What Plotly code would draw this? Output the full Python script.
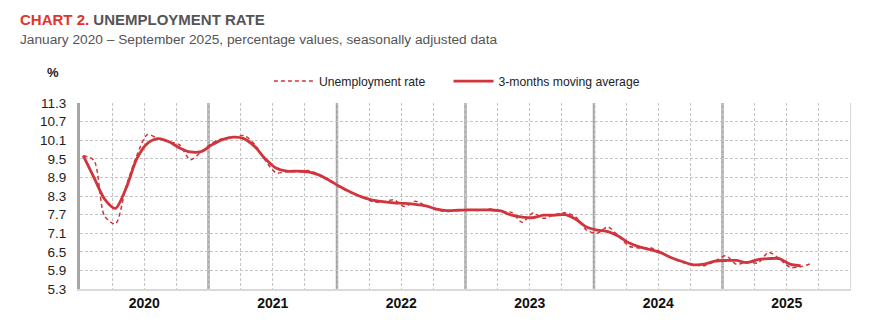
import plotly.graph_objects as go

# Monthly data, January 2020 - September 2025
years = ["2020", "2021", "2022", "2023", "2024", "2025"]
unemployment_rate = [
    9.6, 9.45, 7.65, 7.4, 8.6, 9.6, 10.28, 10.15, 10.05, 9.95, 9.47, 9.72,      # 2020
    10.0, 10.15, 10.2, 10.25, 9.97, 9.45, 9.05, 9.08, 9.1, 9.12, 9.0, 8.82,     # 2021
    8.58, 8.41, 8.27, 8.12, 8.1, 8.18, 7.96, 8.13, 7.98, 7.85, 7.8, 7.85,       # 2022
    7.86, 7.83, 7.88, 7.8, 7.77, 7.45, 7.75, 7.58, 7.7, 7.76, 7.62, 7.2,        # 2023
    7.1, 7.3, 7.0, 6.68, 6.62, 6.62, 6.48, 6.3, 6.15, 6.08, 6.05, 6.2,          # 2024
    6.37, 6.1, 6.18, 6.14, 6.48, 6.28, 6.0, 6.02, 6.12,                         # 2025
]
moving_average = [
    9.6, 8.9, 8.2, 7.9, 8.55, 9.5, 10.0, 10.15, 10.05, 9.85, 9.72, 9.73,
    9.95, 10.12, 10.2, 10.15, 9.9, 9.5, 9.2, 9.1, 9.1, 9.08, 8.98, 8.8,
    8.6, 8.42, 8.27, 8.17, 8.12, 8.08, 8.06, 8.03, 7.98, 7.88, 7.83, 7.84,
    7.85, 7.85, 7.85, 7.82, 7.68, 7.62, 7.6, 7.68, 7.68, 7.7, 7.55, 7.3,
    7.2, 7.15, 7.0, 6.78, 6.65, 6.57, 6.46, 6.3, 6.18, 6.08, 6.1, 6.2,
    6.22, 6.22, 6.15, 6.25, 6.28, 6.28, 6.1, 6.05,
]
y_ticks = [5.3, 5.9, 6.5, 7.1, 7.7, 8.3, 8.9, 9.5, 10.1, 10.7, 11.3]

RED = "#D0343C"
FONT = "Liberation Sans, Arial, sans-serif"

x_rate = [i + 0.3 for i in range(len(unemployment_rate))]
x_ma = [i + 0.3 for i in range(len(moving_average))]
n_months = 12 * len(years)

fig = go.Figure()
fig.add_trace(go.Scatter(
    x=x_rate, y=unemployment_rate, mode="lines", name="Unemployment rate",
    line=dict(color=RED, width=1.5, dash="4px,3px", shape="spline", smoothing=0.8),
    legend="legend",
))
fig.add_trace(go.Scatter(
    x=x_ma, y=moving_average, mode="lines", name="3-months moving average",
    line=dict(color=RED, width=2.8, shape="spline", smoothing=0.8),
    legend="legend2",
))

# year boundary lines
for k in range(1, len(years)):
    fig.add_shape(type="line", xref="x", yref="paper", x0=12 * k, x1=12 * k, y0=0, y1=1,
                  line=dict(color="#A6A6A6", width=2.5), layer="below")
fig.add_shape(type="line", xref="x", yref="paper", x0=n_months, x1=n_months, y0=0, y1=1,
              line=dict(color="#D9D9D9", width=2), layer="below")

legend_common = dict(orientation="h", xanchor="left", y=1.118, yanchor="middle",
                     font=dict(size=12.2, color="#222"), bgcolor="rgba(0,0,0,0)",
                     itemwidth=40)
fig.update_layout(
    width=873, height=326,
    margin=dict(l=80, r=22, t=103, b=37),
    paper_bgcolor="white", plot_bgcolor="white",
    font=dict(family=FONT, size=13, color="#222"),
    showlegend=True,
    legend=dict(x=0.245, **legend_common),
    legend2=dict(x=0.478, **legend_common),
    xaxis=dict(
        range=[0, n_months], tickmode="array",
        tickvals=[12 * k + 6 for k in range(len(years))], ticktext=[f"<b>{y}</b>" for y in years],
        showgrid=False, zeroline=False, ticks="", ticklen=0,
        tickfont=dict(size=14, color="#111"),
        showline=True, linecolor="#D9D9D9", linewidth=2,
        minor=dict(tickmode="array", tickvals=list(range(3, n_months, 3)), showgrid=True,
                   gridcolor="#C4C4C4", griddash="3px,2px", gridwidth=1, ticks=""),
    ),
    yaxis=dict(
        range=[5.3, 11.3], tickmode="array", tickvals=y_ticks,
        ticktext=[f"{v:.1f}" for v in y_ticks],
        showgrid=True, gridcolor="#C4C4C4", griddash="3px,2px", gridwidth=1,
        zeroline=False, ticks="", tickfont=dict(size=13.5, color="#222"),
        ticklabelstandoff=8,
        showline=True, linecolor="#A6A6A6", linewidth=3,
    ),
    annotations=[
        dict(text=f"<b><span style='color:#E0352B'>CHART 2.</span> UNEMPLOYMENT RATE</b>",
             xref="paper", yref="paper", x=0, y=1, xanchor="left", yanchor="top",
             showarrow=False, font=dict(size=15, color="#555555", family=FONT)),
        dict(text="January 2020 – September 2025, percentage values, seasonally adjusted data",
             xref="paper", yref="paper", x=0, y=1, xanchor="left", yanchor="top",
             showarrow=False, font=dict(size=13.7, color="#555555", family=FONT)),
        dict(text="<b>%</b>", xref="paper", yref="paper", x=0, y=1, xanchor="left", yanchor="top",
             showarrow=False, font=dict(size=13, color="#222", family=FONT)),
    ],
)
# position annotations in pixels via paper coords
ph = 326 - 103 - 37
pw = 873 - 80 - 22
def px_to_paper(px, py):
    return (px - 80) / pw, (326 - 37 - py) / ph
anns = list(fig.layout.annotations)
for ann, (px, py) in zip(anns, [(18, 9), (18, 30), (45, 63)]):
    ann.x, ann.y = px_to_paper(px, py)
fig.layout.annotations = anns

fig.write_html("out.html")
